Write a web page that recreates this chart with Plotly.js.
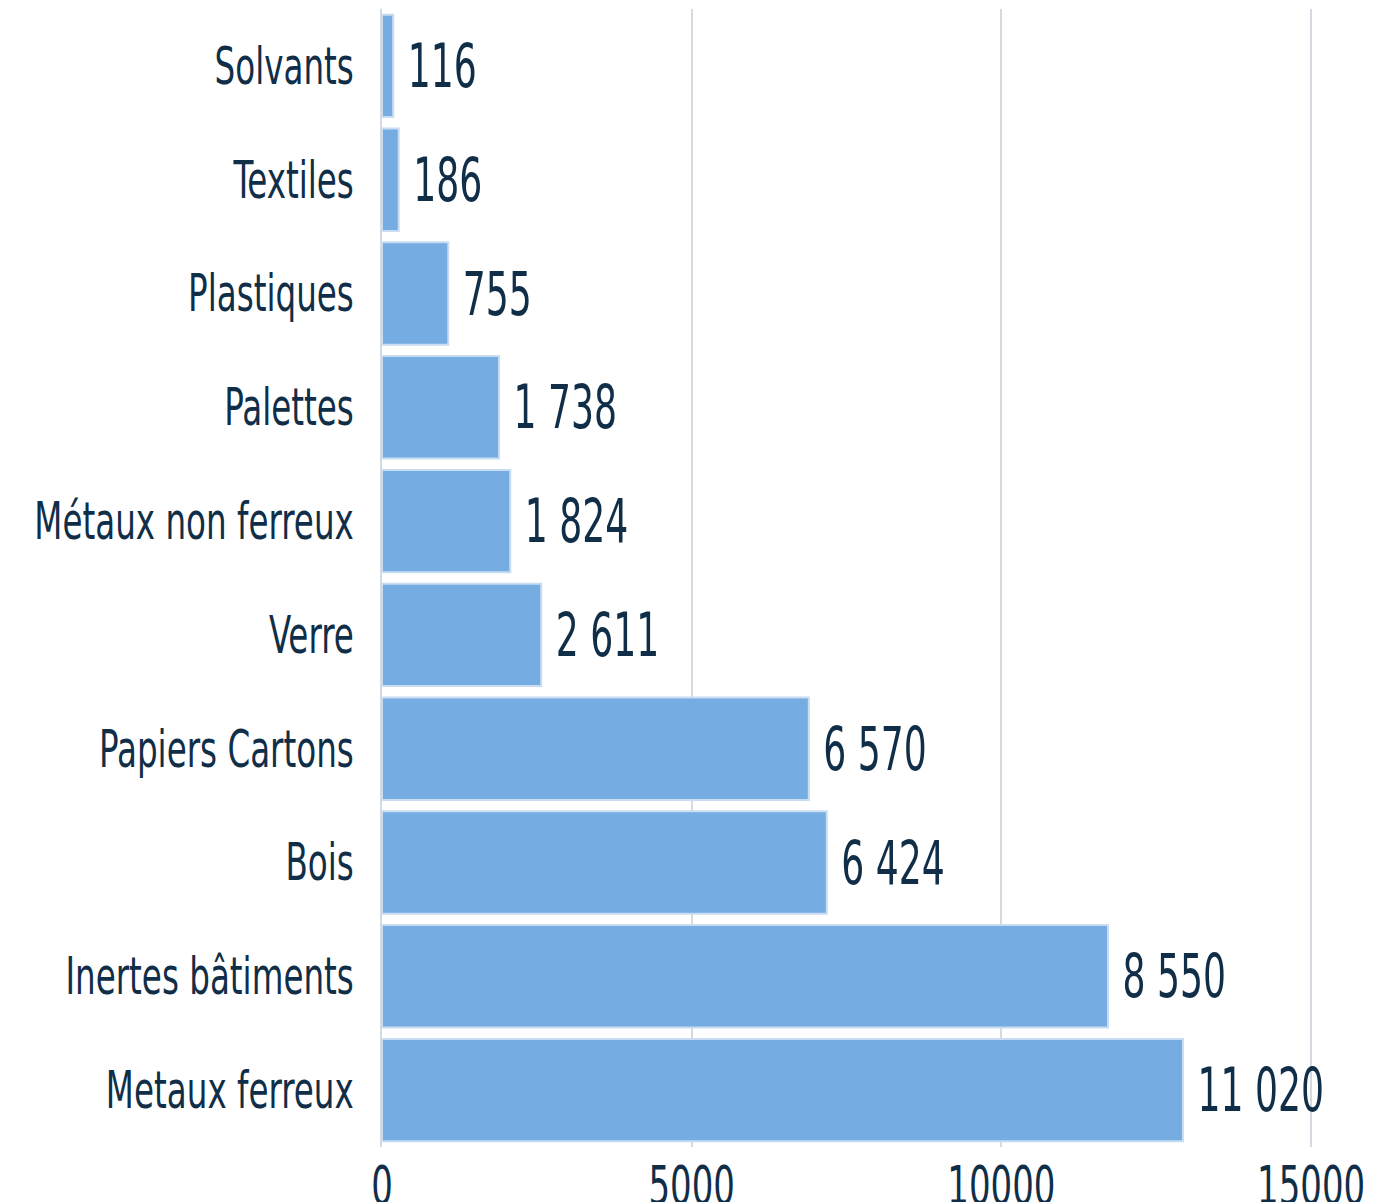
<!DOCTYPE html>
<html>
<head>
<meta charset="utf-8">
<script src="https://cdn.plot.ly/plotly-3.0.1.min.js"></script>
<style>
html,body{margin:0;padding:0;background:#fff;}
#chart{width:1379px;height:1202px;}
</style>
</head>
<body>
<div id="chart"></div>
<script>
// Categories, top to bottom
var categories = ["Solvants", "Textiles", "Plastiques", "Palettes", "Métaux non ferreux", "Verre", "Papiers Cartons", "Bois", "Inertes bâtiments", "Metaux ferreux"];
// Bar lengths as drawn in the picture (axis units)
var barValues = [180, 270, 1070, 1890, 2070, 2570, 6890, 7180, 11720, 12930];
// Printed value labels (as written next to each bar)
var valueLabels = ["116", "186", "755", "1 738", "1 824", "2 611", "6 570", "6 424", "8 550", "11 020"];
var xTicks = [0, 5000, 10000, 15000];
var xTickText = ["0", "5000", "10000", "15000"];

var FONT = '"DejaVu Sans Condensed", "DejaVu Sans", sans-serif';
var TXT = '#102e48';

var trace = {
  type: 'bar',
  orientation: 'h',
  y: categories,
  x: barValues,
  text: valueLabels.map(function(s){ return '\u00a0' + s; }),
  textposition: 'outside',
  constraintext: 'none',
  cliponaxis: false,
  textfont: {family: FONT, size: 60, color: TXT},
  marker: {color: '#75ace2', line: {color: '#c8dcf2', width: 2}},
  hoverinfo: 'none'
};

var layout = {
  width: 1379,
  height: 1202,
  margin: {l: 382, r: 66, t: 9, b: 55},
  paper_bgcolor: '#ffffff',
  plot_bgcolor: '#ffffff',
  bargap: 0.1,
  showlegend: false,
  font: {family: FONT, color: TXT},
  xaxis: {
    range: [0, 15030],
    tickvals: xTicks,
    ticktext: xTickText,
    showgrid: true,
    gridcolor: '#d3dae2',
    gridwidth: 2,
    zeroline: false,
    showline: false,
    ticks: '',
    tickfont: {family: FONT, size: 54, color: TXT},
    ticklabelstandoff: 2,
    ticklabeloverflow: 'allow',
    fixedrange: true
  },
  yaxis: {
    autorange: 'reversed',
    type: 'category',
    showgrid: false,
    zeroline: false,
    showline: true,
    linecolor: '#d3dae2',
    linewidth: 2,
    ticks: '',
    tickfont: {family: FONT, size: 51, color: TXT},
    ticklabelstandoff: 16,
    fixedrange: true
  }
};

// Narrow the text horizontally to mimic the condensed typeface of the original
function squeeze(sel, s, anchor) {
  document.querySelectorAll(sel).forEach(function (el) {
    var bb = el.getBBox();
    var px = anchor === 'end' ? bb.x + bb.width : (anchor === 'start' ? bb.x : bb.x + bb.width / 2);
    var t = el.getAttribute('transform') || '';
    el.setAttribute('transform', t + ' translate(' + px + ',0) scale(' + s + ',1) translate(' + (-px) + ',0)');
  });
}

Plotly.newPlot('chart', [trace], layout, {displayModeBar: false, staticPlot: true}).then(function () {
  squeeze('#chart .ytick text', 0.71, 'end');
  squeeze('#chart .xtick text', 0.70, 'middle');
  squeeze('#chart text.bartext', 0.67, 'start');
});
</script>
</body>
</html>
